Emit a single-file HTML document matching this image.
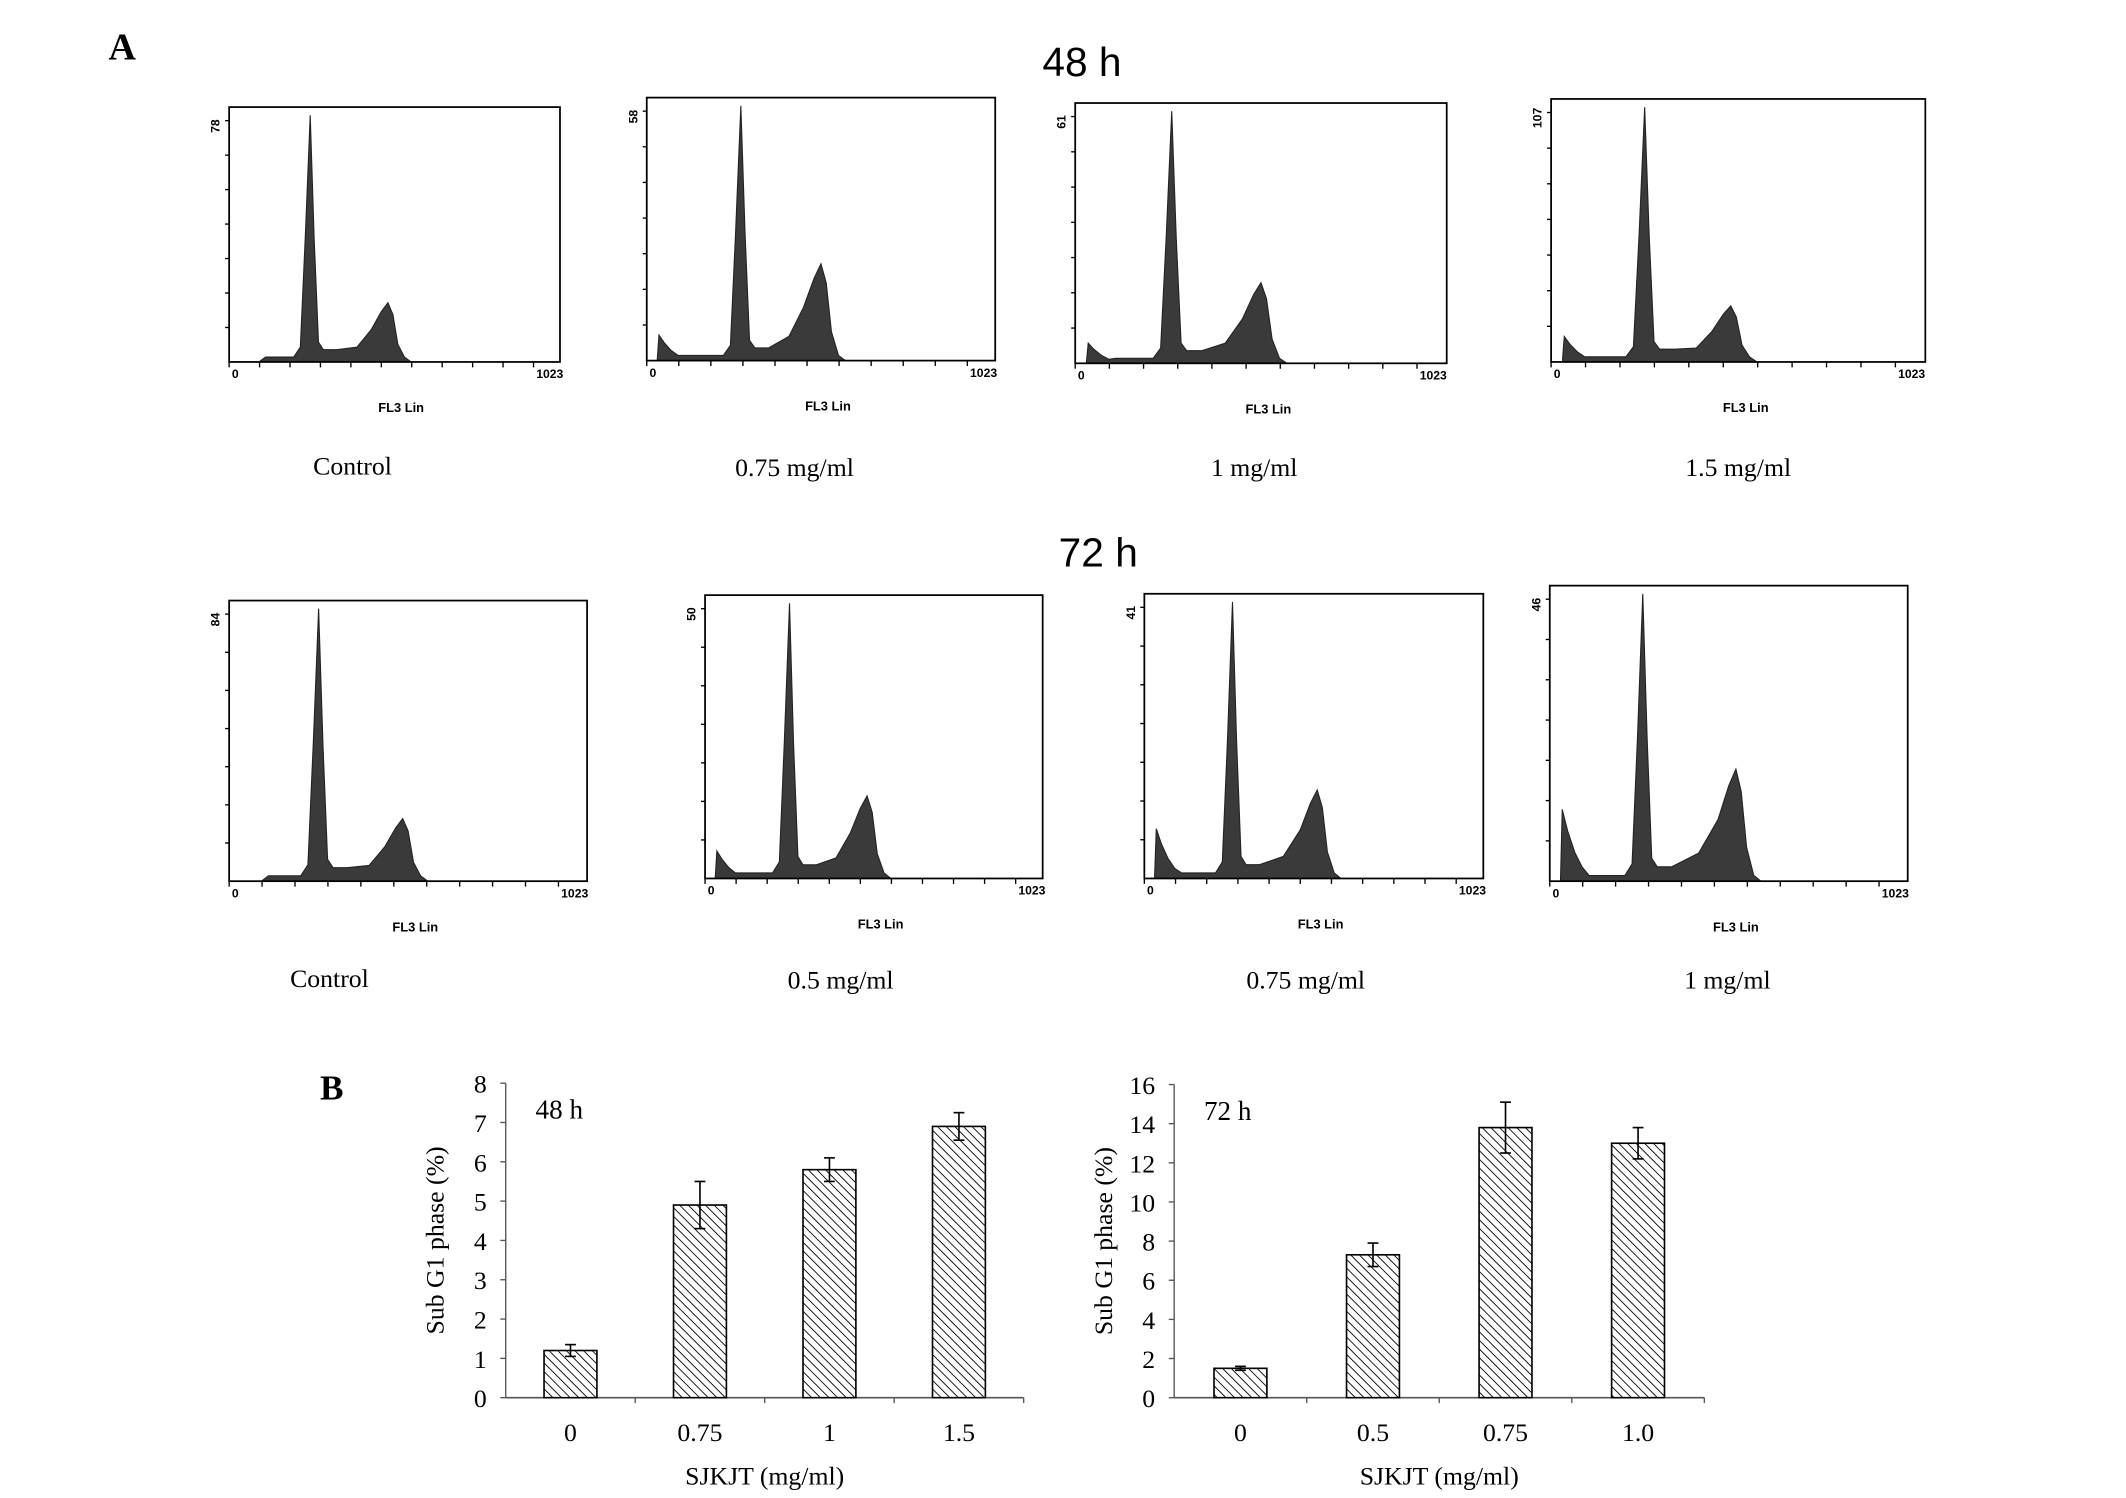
<!DOCTYPE html>
<html><head><meta charset="utf-8"><style>
html,body{margin:0;padding:0;background:#fff}
svg{display:block}
text{font-family:"Liberation Serif",serif;fill:#000}
.sans{font-family:"Liberation Sans",sans-serif;font-weight:bold}
</style></head><body>
<svg id="fig" width="2126" height="1498" viewBox="0 0 1568 1105" preserveAspectRatio="none" xmlns="http://www.w3.org/2000/svg">
<defs>
<pattern id="hatch" patternUnits="userSpaceOnUse" width="4.5" height="4.5" patternTransform="rotate(-45)">
<rect width="4.5" height="4.5" fill="#fff"/><line x1="0" y1="0" x2="0" y2="4.5" stroke="#000" stroke-width="1.3"/>
</pattern>
</defs>
<text x="80" y="44" font-size="28" font-weight="bold">A</text>
<text x="236" y="811" font-size="26" font-weight="bold">B</text>
<text x="798" y="56" font-size="30" text-anchor="middle" style="font-family:'Liberation Sans',sans-serif">48 h</text>
<text x="810" y="418" font-size="30" text-anchor="middle" style="font-family:'Liberation Sans',sans-serif">72 h</text>
<g id="hists"></g>
<g id="bars"></g>
</svg>
<script>
// Histogram panel data
const histCaptions = ["Control","0.75 mg/ml","1 mg/ml","1.5 mg/ml","Control","0.5 mg/ml","0.75 mg/ml","1 mg/ml"];
const histYMax = ["78","58","61","107","84","50","41","46"];
const g1Pos = [0.245,0.27,0.26,0.25,0.25,0.25,0.26,0.26];
const g2Pos = [0.48,0.50,0.50,0.48,0.485,0.48,0.51,0.52];
const g2Height = [0.24,0.38,0.32,0.22,0.23,0.30,0.32,0.39];
const subG1Height = [0.0,0.10,0.08,0.10,0.0,0.10,0.18,0.25];
// panel frames (display coords): x0,x1,top,base
const frames = [[169,413,79,267],[477,734,72,266],[793,1067,76,268],[1144,1420,73,267],
[169,433,443,650],[520,769,439,648],[844,1094,438,648],[1143,1407,432,650]];
const captionPos = [[260,350],[586,351],[925,351],[1282,351],[243,728],[620,729],[963,729],[1274,729]];

const NS="http://www.w3.org/2000/svg";
function mk(tag,attrs,parent){const e=document.createElementNS(NS,tag);for(const k in attrs)e.setAttribute(k,attrs[k]);parent.appendChild(e);return e;}
const H=document.getElementById('hists');
frames.forEach((f,i)=>{
  const [x0,x1,top,base]=f, w=x1-x0, h=base-top;
  const g=mk('g',{},H);
  
  
  const X=fr=>x0+fr*w, Y=v=>base-v*(h-6);
  const a=g1Pos[i], b=g2Pos[i], gh=g2Height[i], s=subG1Height[i];
  const pts=[[0.03,0],[0.035,s],[0.05,s*0.7],[0.07,s*0.4],[0.09,s*0.2],[0.11,0.02],[a-0.05,0.02],[a-0.03,0.06],[a-0.015,0.5],[a,1],[a+0.012,0.5],[a+0.025,0.08],[a+0.04,0.05],
  [a+0.08,0.05],[a+(b-a)*0.6,gh*0.25],[b-0.05,gh*0.55],[b-0.02,gh*0.85],[b,gh],[b+0.015,gh*0.8],[b+0.03,gh*0.3],[b+0.05,0.02],[b+0.07,0]];
  let d='M'+X(0.02)+','+base;
  pts.forEach(p=>{d+=' L'+X(p[0]).toFixed(1)+','+Y(p[1]).toFixed(1);});
  d+=' Z';
  const pk=mk('path',{d:d,fill:'#3a3a3a',stroke:'#222','stroke-width':0.8},g);
  
  
  mk('rect',{x:x0,y:top,width:w,height:h,fill:'none',stroke:'#000','stroke-width':1.3},g);
  for(let k=1;k<=7;k++){mk('line',{x1:x0-3,x2:x0,y1:base-k*(h-10)/7,y2:base-k*(h-10)/7,stroke:'#000','stroke-width':1},g);}
  for(let k=0;k<=10;k++){const xx=x0+k*w*0.092;mk('line',{x1:xx,x2:xx,y1:base,y2:base+4,stroke:'#000','stroke-width':1},g);}
  const ym=mk('text',{x:0,y:0,'font-size':9,class:'sans','text-anchor':'middle',transform:`translate(${x0-7},${top+14}) rotate(-90)`},g);ym.textContent=histYMax[i];
  const t0=mk('text',{x:x0+2,y:base+12,'font-size':9,class:'sans'},g);t0.textContent='0';
  const t1=mk('text',{x:x0+w*0.92+12,y:base+12,'font-size':9,class:'sans','text-anchor':'middle'},g);t1.textContent='1023';
  const fl=mk('text',{x:x0+w*0.52,y:base+37,'font-size':9.5,class:'sans','text-anchor':'middle'},g);fl.textContent='FL3 Lin';
  
  
  const c=mk('text',{x:captionPos[i][0],y:captionPos[i][1],'font-size':19,'text-anchor':'middle'},g);c.textContent=histCaptions[i];
  
  
});

// Bar chart data
const cats48=["0","0.75","1","1.5"];
const vals48=[1.2,4.9,5.8,6.9];
const err48=[0.15,0.6,0.3,0.35];
const ticks48=[0,1,2,3,4,5,6,7,8];
const cats72=["0","0.5","0.75","1.0"];
const vals72=[1.5,7.3,13.8,13.0];
const err72=[0.1,0.6,1.3,0.8];
const ticks72=[0,2,4,6,8,10,12,14,16];

const B=document.getElementById('bars');
function barChart(name,ax,axEnd,y0,yTop,ymax,cats,vals,errs,ticks,title){
  const g=mk('g',{},B);
  
  
  const Y=v=>y0-v/ymax*(y0-yTop);
  mk('line',{x1:ax,x2:ax,y1:y0,y2:yTop,stroke:'#555','stroke-width':1},g);
  mk('line',{x1:ax,x2:axEnd,y1:y0,y2:y0,stroke:'#555','stroke-width':1.2},g);
  ticks.forEach(t=>{
    mk('line',{x1:ax-4,x2:ax,y1:Y(t),y2:Y(t),stroke:'#555'},g);
    const tx=mk('text',{x:ax-14,y:Y(t)+7,'font-size':19,'text-anchor':'end'},g);tx.textContent=t;
  });
  const step=(axEnd-ax)/cats.length;
  for(let k=1;k<=cats.length;k++) mk('line',{x1:ax+k*step,x2:ax+k*step,y1:y0,y2:y0+4,stroke:'#555'},g);
  cats.forEach((c,i)=>{
    const cx=ax+step*(i+0.5), bw=39;
    const r=mk('rect',{x:cx-bw/2,y:Y(vals[i]),width:bw,height:y0-Y(vals[i]),fill:'url(#hatch)',stroke:'#000','stroke-width':1.2},g);
    
    
    mk('line',{x1:cx,x2:cx,y1:Y(vals[i]-errs[i]),y2:Y(vals[i]+errs[i]),stroke:'#000','stroke-width':1.2},g);
    [vals[i]-errs[i],vals[i]+errs[i]].forEach(v=>mk('line',{x1:cx-4,x2:cx+4,y1:Y(v),y2:Y(v),stroke:'#000','stroke-width':1.2},g));
    const lt=mk('text',{x:cx,y:y0+32,'font-size':19,'text-anchor':'middle'},g);lt.textContent=c;
  });
  const tt=mk('text',{x:ax+22,y:yTop+26,'font-size':20},g);tt.textContent=title;
  const xt=mk('text',{x:(ax+axEnd)/2,y:y0+64,'font-size':19,'text-anchor':'middle'},g);xt.textContent='SJKJT (mg/ml)';
  
  
  const yt=mk('text',{x:0,y:0,'font-size':19,'text-anchor':'middle',transform:`translate(${ax-46},${(y0+yTop)/2}) rotate(-90)`},g);yt.textContent='Sub G1 phase (%)';
  
  
}
barChart('bar-chart-48h',373,755,1031,799,8,cats48,vals48,err48,ticks48,'48 h');
barChart('bar-chart-72h',866,1257,1031,800,16,cats72,vals72,err72,ticks72,'72 h');
</script>
</body></html>
